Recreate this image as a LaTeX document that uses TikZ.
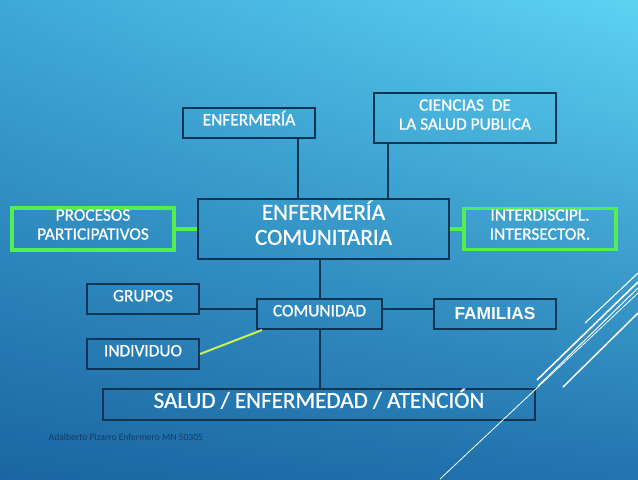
\documentclass[tikz,border=0pt]{standalone}
\usepackage{fontspec}
\usetikzlibrary{shadings}
\setmainfont{Carlito}[FakeBold=0.8]
\newfontfamily\arialfont{Liberation Sans}
\newfontfamily\piefont{Carlito}
\definecolor{linea}{HTML}{0E3453}
\definecolor{verde}{HTML}{52EE52}
\definecolor{lima}{HTML}{C8F250}
\definecolor{pie}{HTML}{123C66}
\definecolor{fondoA}{HTML}{3EA8D9}
\definecolor{fondoB}{HTML}{5DD3F2}
\definecolor{fondoC}{HTML}{1B66A2}
\definecolor{fondoD}{HTML}{2273AE}
\begin{document}
\begin{tikzpicture}[x=0.75pt,y=-0.75pt,
  caja/.style={draw=linea,line width=1.5pt,text=white,inner sep=0pt,align=center,font=\fontsize{13}{14.25}\selectfont},
  unalinea/.style={text height=8.4pt,text depth=5pt},
  cajaverde/.style={caja,draw=verde,line width=2.3pt},
  grande/.style={font=\fontsize{17.3}{18.75}\selectfont},
  conector/.style={draw=linea,line width=1.5pt},
  conectorverde/.style={draw=verde,line width=3pt},
  ]
  % Fondo
  \shade[upper left=fondoA,upper right=fondoB,lower left=fondoC,lower right=fondoD] (0,0) rectangle (638,479);
  \useasboundingbox (0,0) rectangle (638,479);

  % Cajas de arriba
  \node[caja,unalinea,minimum width=99pt,minimum height=22.5pt] (Enfermeria) at (249,123) {ENFERMERÍA};
  \node[caja,text depth=5.25pt,minimum width=136.5pt,minimum height=37.5pt] (Ciencias) at (465,118) {CIENCIAS\ \ DE\\LA SALUD PUBLICA};
  \node[caja,grande,text depth=9.5pt,minimum width=188.25pt,minimum height=45pt] (EnfComunitaria) at (323.5,229) {ENFERMERÍA\\COMUNITARIA};
  \node[cajaverde,text depth=6.75pt,minimum width=121.5pt,minimum height=31.5pt] (Procesos) at (93,229) {PROCESOS\\PARTICIPATIVOS};
  \node[cajaverde,text depth=6.75pt,minimum width=114pt,minimum height=30.75pt] (Interdisc) at (540,229) {INTERDISCIPL.\\INTERSECTOR.};

  \draw[conector] ([xshift=36.75pt]Enfermeria.south) to ([xshift=36.75pt]Enfermeria.south |- EnfComunitaria.north);
  \draw[conector] ([xshift=11.25pt]Ciencias.south west) to ([xshift=11.25pt]Ciencias.south west |- EnfComunitaria.north);
  \draw[conectorverde] (Procesos.east) to (EnfComunitaria.west);
  \draw[conectorverde] (EnfComunitaria.east) to (Interdisc.west);

  % Comunidad
  \node[caja,unalinea,minimum width=93.75pt,minimum height=22.5pt] (Comunidad) at (319.5,314) {COMUNIDAD};
  \node[caja,unalinea,minimum width=84pt,minimum height=22.5pt] (Grupos) at (143,299) {GRUPOS};
  \node[caja,unalinea,minimum width=84pt,minimum height=22.5pt] (Individuo) at (143,354) {INDIVIDUO};
  \node[caja,unalinea,text depth=0pt,minimum width=91.5pt,minimum height=22.5pt,font=\arialfont\bfseries\fontsize{13}{14}\selectfont] (Familias) at (495,314) {FAMILIAS};
  \node[caja,grande,text height=11.1pt,text depth=6pt,minimum width=324pt,minimum height=23.25pt] (Salud) at (319,404.5) {SALUD / ENFERMEDAD / ATENCIÓN};

  \draw[conector] (Comunidad.north) to (Comunidad.north |- EnfComunitaria.south);
  \draw[conector] (Comunidad.south) to (Comunidad.south |- Salud.north);
  \draw[conector] ([yshift=-7.5pt]Grupos.east) to ([yshift=-7.5pt]Grupos.east -| Comunidad.west);
  \draw[conector] ([yshift=3.75pt]Comunidad.east) to ([yshift=3.75pt]Comunidad.east -| Familias.west);
  \draw[draw=lima,line width=1.5pt] (Individuo.east) to ([xshift=4.5pt]Comunidad.south west);

  \node[anchor=west,text=pie,font=\piefont\fontsize{7.2}{8}\selectfont] (Autor) at (44,437) {Adalberto Pizarro Enfermero MN 50305};

  % Lineas decorativas
  \draw[white,line width=1.2pt] (537,380) to (638,282);
  \draw[white,line width=0.7pt] (538,386) to (638,288);
  \draw[white,line width=0.6pt] (440,479) to (638,293);
  \draw[white,line width=0.8pt] (585,323) to (638,273);
  \draw[white,line width=1.1pt] (563,387) to (638,313);
\end{tikzpicture}
\end{document}
